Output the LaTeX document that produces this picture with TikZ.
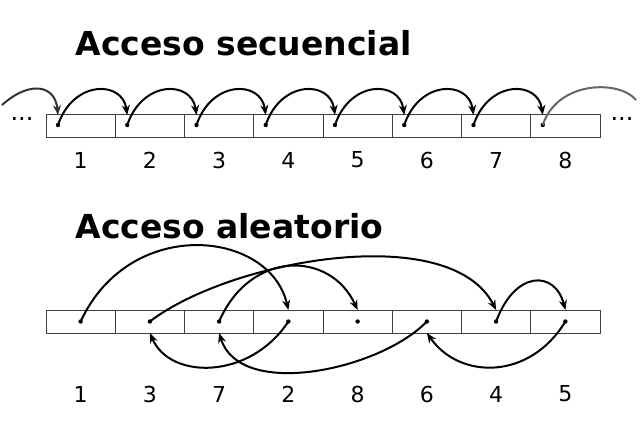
\documentclass[tikz,border=0pt]{standalone}
\usepackage{fontspec}
\setmainfont{DejaVu Sans}
\usetikzlibrary{arrows.meta}
\begin{document}
\begin{tikzpicture}[x=1pt,y=-1pt,
  cell/.style={draw=black!75,line width=1pt,minimum width=69.25pt,minimum height=23pt,inner sep=0pt,outer sep=0pt},
  arr/.style={line width=2pt,-{Stealth[length=10pt,width=8pt]}},
  lab/.style={font=\fontsize{22}{22}\selectfont},
  ttl/.style={font=\bfseries\fontsize{33}{33}\selectfont,anchor=west}]
\useasboundingbox (0,0) rectangle (640,429);
\node[ttl] (t1) at (72,43) {Acceso secuencial};
\node[ttl] (t2) at (72,226) {Acceso aleatorio};
% top row
\foreach \i in {1,...,8}{
  \node[cell] (a\i) at ({46+69.25*(\i-0.5)},125.5) {};
  \fill ({46+69.25*(\i-1)+12},125) circle (2.2pt) coordinate (d\i);
  \node[lab] (l\i) at ({46+69.25*(\i-0.5)},160) {\i};
}
\foreach \i [evaluate=\i as \j using int(\i+1)] in {1,...,7}{
  \draw[arr] (d\i) .. controls +(15,-45) and +(-5,-35) .. ([yshift=-1pt]d\j |- a\j.north);
}
\coordinate (s0) at (2,105);
\coordinate (e0) at (636,100);
\draw[arr,draw=black!80] (s0) .. controls (30,80) and (55,85) .. ([yshift=-1pt]d1 |- a1.north);
\draw[line width=2pt,black!60] (d8) .. controls +(15,-45) and (620,80) .. (e0);
\node[font=\fontsize{24}{24}\selectfont] (el) at (22,119) {...};
\node[font=\fontsize{24}{24}\selectfont] (er) at (622,119) {...};
% bottom row
\foreach \i/\n in {1/1,2/3,3/7,4/2,5/8,6/6,7/4,8/5}{
  \node[cell] (b\i) at ({46+69.25*(\i-0.5)},321.5) {};
  \fill (b\i.center) circle (2.2pt) coordinate (p\i);
  \node[lab] (m\i) at ({46+69.25*(\i-0.5)},394) {\n};
}
\draw[arr] (p1) .. controls (130,215) and (270,230) .. (p4 |- b4.north);
\draw[arr] (p4) .. controls (250,380) and (170,380) .. (p2 |- b2.south);
\draw[arr] (p2) .. controls (230,260) and (450,220) .. (p7 |- b7.north);
\draw[arr] (p7) .. controls (515,270) and (555,270) .. (p8 |- b8.north);
\draw[arr] (p8) .. controls (530,380) and (460,380) .. (p6 |- b6.south);
\draw[arr] (p6) .. controls (380,370) and (240,400) .. (p3 |- b3.south);
\draw[arr] (p3) .. controls (250,250) and (330,250) .. (p5 |- b5.north);
\end{tikzpicture}
\end{document}
